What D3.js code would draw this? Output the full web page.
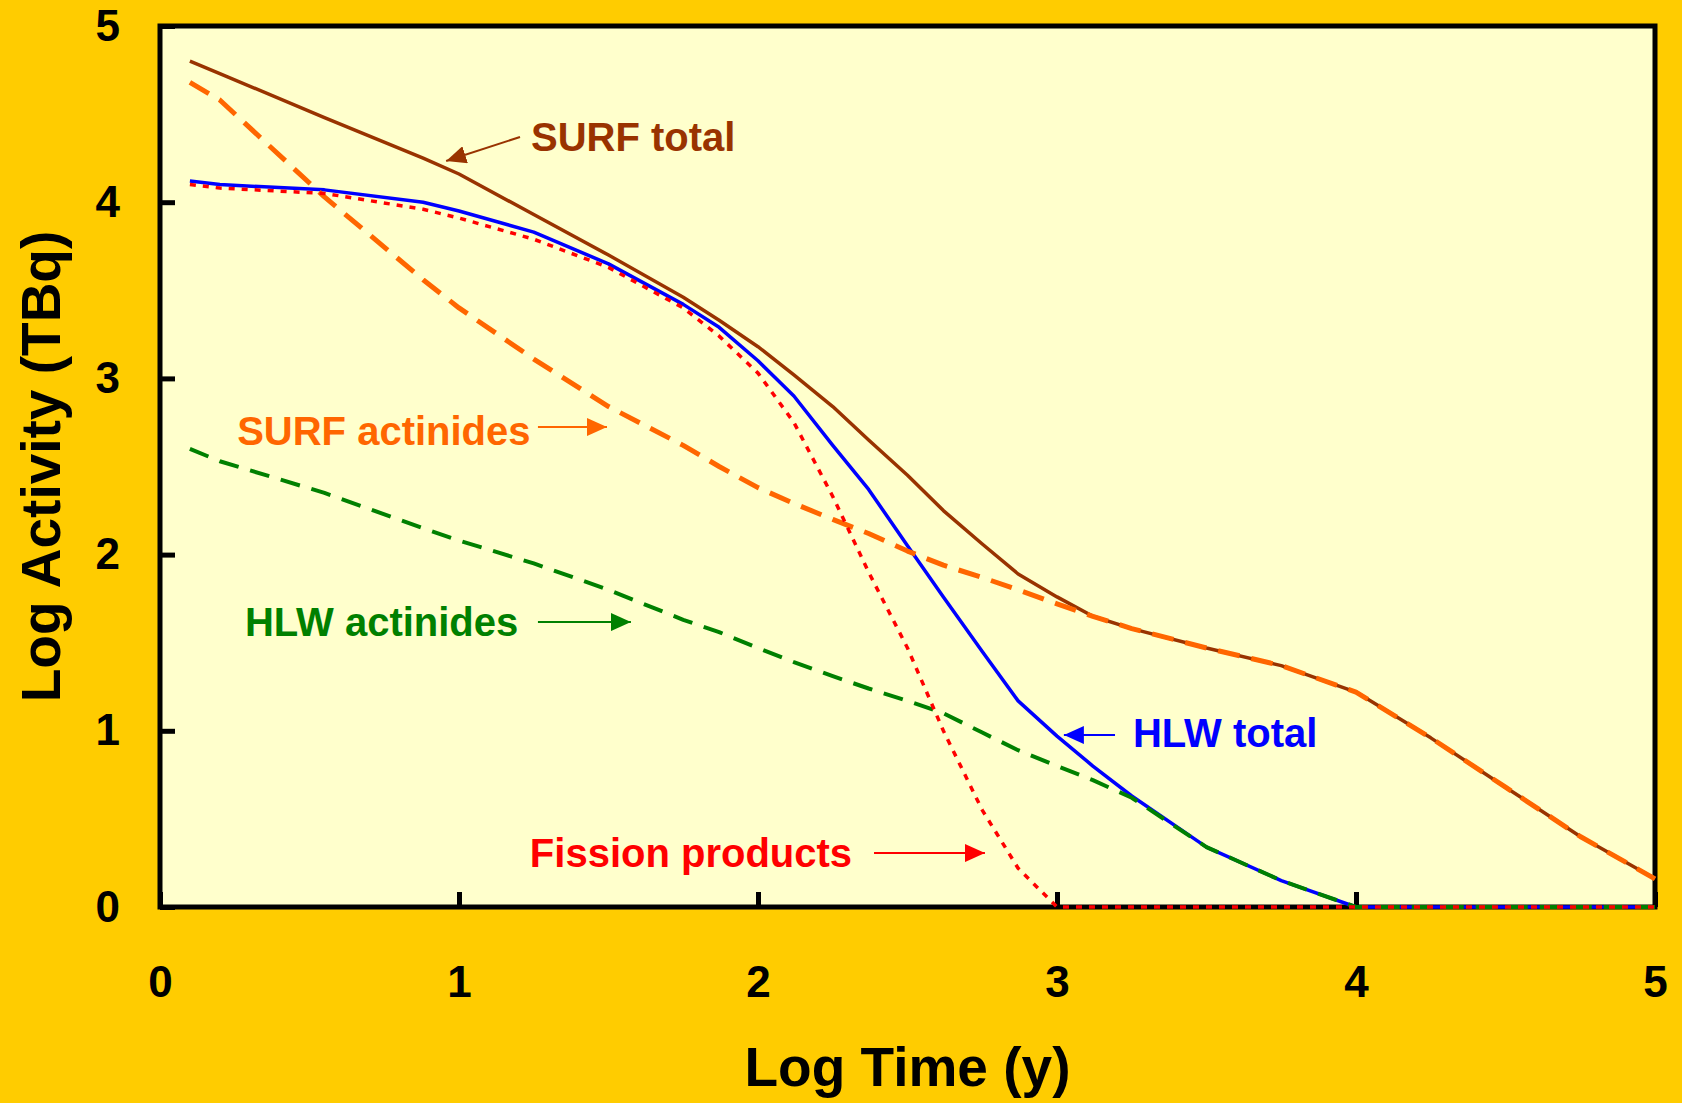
<!DOCTYPE html>
<html>
<head>
<meta charset="utf-8">
<script src="https://cdn.jsdelivr.net/npm/d3@7"></script>
<style>
  body { margin: 0; background: #FFCC00; }
  text { font-family: "Liberation Sans", Arial, sans-serif; font-weight: bold; }
</style>
</head>
<body>
<div id="plot"></div>
<script>
// canvas
var w = 1682;
var h = 1103;
var margin = { top: 26, right: 27, bottom: 196, left: 160 };

// Data: log time (y) and log activity (TBq) per curve
var logTime         = [0.1, 0.2, 0.55, 0.88, 1.0, 1.25, 1.5, 1.75, 1.87, 2.0, 2.12, 2.25, 2.37, 2.5, 2.62, 2.75, 2.87, 3.0, 3.12, 3.25, 3.5, 3.75, 4.0, 4.25, 4.5, 4.75, 5.0];
var surfTotal       = [4.80, 4.73, 4.48, 4.25, 4.16, 3.93, 3.70, 3.46, 3.33, 3.18, 3.02, 2.84, 2.65, 2.45, 2.25, 2.06, 1.89, 1.76, 1.65, 1.58, 1.47, 1.37, 1.22, 0.96, 0.68, 0.40, 0.16];
var surfActinides   = [4.68, 4.58, 4.03, 3.56, 3.40, 3.11, 2.84, 2.62, 2.50, 2.38, 2.29, 2.20, 2.12, 2.02, 1.94, 1.87, 1.80, 1.72, 1.65, 1.58, 1.47, 1.37, 1.22, 0.96, 0.68, 0.40, 0.16];
var hlwTotal        = [4.12, 4.10, 4.07, 4.00, 3.95, 3.83, 3.65, 3.42, 3.29, 3.10, 2.90, 2.62, 2.37, 2.05, 1.76, 1.45, 1.17, 0.97, 0.80, 0.63, 0.34, 0.15, 0.0, 0.0, 0.0, 0.0, 0.0];
var hlwActinides    = [2.60, 2.53, 2.35, 2.15, 2.08, 1.95, 1.80, 1.63, 1.56, 1.47, 1.39, 1.31, 1.24, 1.17, 1.10, 0.99, 0.89, 0.80, 0.72, 0.62, 0.34, 0.15, 0.0, 0.0, 0.0, 0.0, 0.0];
var fissionProducts = [4.10, 4.08, 4.05, 3.96, 3.91, 3.79, 3.63, 3.40, 3.24, 3.03, 2.75, 2.33, 1.90, 1.47, 1.00, 0.55, 0.22, 0.0, 0.0, 0.0, 0.0, 0.0, 0.0, 0.0, 0.0, 0.0, 0.0];

var xTicks = [0, 1, 2, 3, 4, 5];
var yTicks = [0, 1, 2, 3, 4, 5];

var series = [
	{ name: 'SURF total',       values: surfTotal,       color: '#993300', width: 3.5, dash: null },
	{ name: 'HLW total',        values: hlwTotal,        color: '#0000FF', width: 3.5, dash: null },
	{ name: 'SURF actinides',   values: surfActinides,   color: '#FF6600', width: 5,   dash: '22,12' },
	{ name: 'HLW actinides',    values: hlwActinides,    color: '#008000', width: 4,   dash: '20,12' },
	{ name: 'Fission products', values: fissionProducts, color: '#FF0000', width: 3.5, dash: '6,7' }
];

// labels with arrows, in data units
var notes = [
	{ text: 'SURF total',       color: '#993300', tx: 1.241, ty: 4.29,  x1: 1.204, y1: 4.37,  x2: 0.957, y2: 4.234 },
	{ text: 'SURF actinides',   color: '#FF6600', tx: 0.258, ty: 2.622, x1: 1.264, y1: 2.724, x2: 1.495, y2: 2.724 },
	{ text: 'HLW actinides',    color: '#008000', tx: 0.284, ty: 1.538, x1: 1.264, y1: 1.617, x2: 1.575, y2: 1.617 },
	{ text: 'HLW total',        color: '#0000FF', tx: 3.254, ty: 0.908, x1: 3.194, y1: 0.976, x2: 3.023, y2: 0.976 },
	{ text: 'Fission products', color: '#FF0000', tx: 1.237, ty: 0.227, x1: 2.388, y1: 0.306, x2: 2.759, y2: 0.306 }
];

var iw = w - margin.left - margin.right;
var ih = h - margin.top - margin.bottom;

var svg = d3.select('#plot').append('svg')
	.attr('width', w)
	.attr('height', h);

svg.append('rect')
	.attr('width', w)
	.attr('height', h)
	.attr('fill', '#FFCC00');

var g = svg.append('g')
	.attr('transform', 'translate(' + margin.left + ',' + margin.top + ')');

var x = d3.scaleLinear().domain([0, 5]).range([0, iw]);
var y = d3.scaleLinear().domain([0, 5]).range([ih, 0]);

// plot area
g.append('rect')
	.attr('width', iw)
	.attr('height', ih)
	.attr('fill', '#FFFFCC')
	.attr('stroke', '#000')
	.attr('stroke-width', 5);

// axes with inward ticks
var xAxis = g.append('g')
	.attr('transform', 'translate(0,' + ih + ')')
	.call(d3.axisBottom(x).tickValues(xTicks).tickSize(-15).tickPadding(59).tickFormat(d3.format('d')));

var yAxis = g.append('g')
	.call(d3.axisLeft(y).tickValues(yTicks).tickSize(-15).tickPadding(40).tickFormat(d3.format('d')));

[xAxis, yAxis].forEach(function (a) {
	a.select('.domain').remove();
	a.selectAll('line').attr('stroke', '#000').attr('stroke-width', 5);
	a.selectAll('text')
		.attr('fill', '#000')
		.style('font-size', '44px')
		.style('font-family', '"Liberation Sans", Arial, sans-serif')
		.style('font-weight', 'bold');
});

// axis titles
svg.append('text')
	.attr('x', margin.left + iw / 2)
	.attr('y', 1086)
	.attr('text-anchor', 'middle')
	.attr('font-size', '55px')
	.attr('fill', '#000')
	.text('Log Time (y)');

svg.append('text')
	.attr('transform', 'translate(60,' + (margin.top + ih / 2) + ') rotate(-90)')
	.attr('text-anchor', 'middle')
	.attr('font-size', '55px')
	.attr('fill', '#000')
	.text('Log Activity (TBq)');

// curves
var line = d3.line()
	.x(function (d) { return x(d[0]); })
	.y(function (d) { return y(d[1]); });

series.forEach(function (s) {
	var pts = logTime.map(function (t, i) { return [t, s.values[i]]; });
	g.append('path')
		.datum(pts)
		.attr('d', line)
		.attr('fill', 'none')
		.attr('stroke', s.color)
		.attr('stroke-width', s.width)
		.attr('stroke-dasharray', s.dash)
		.attr('stroke-linejoin', 'round');
});

// arrow heads
var defs = svg.append('defs');
notes.forEach(function (n, i) {
	defs.append('marker')
		.attr('id', 'arrow' + i)
		.attr('markerUnits', 'userSpaceOnUse')
		.attr('viewBox', '0 0 20 18')
		.attr('refX', 20)
		.attr('refY', 9)
		.attr('markerWidth', 20)
		.attr('markerHeight', 18)
		.attr('orient', 'auto')
		.append('path')
		.attr('d', 'M0,0 L20,9 L0,18 Z')
		.attr('fill', n.color);
});

var notesG = g.selectAll('.note')
	.data(notes)
	.enter()
	.append('g')
	.attr('class', 'note');

notesG.append('line')
	.attr('x1', function (d) { return x(d.x1); })
	.attr('y1', function (d) { return y(d.y1); })
	.attr('x2', function (d) { return x(d.x2); })
	.attr('y2', function (d) { return y(d.y2); })
	.attr('stroke', function (d) { return d.color; })
	.attr('stroke-width', 2)
	.attr('marker-end', function (d, i) { return 'url(#arrow' + i + ')'; });

notesG.append('text')
	.attr('x', function (d) { return x(d.tx); })
	.attr('y', function (d) { return y(d.ty); })
	.attr('font-size', '40px')
	.attr('fill', function (d) { return d.color; })
	.text(function (d) { return d.text; });
</script>
</body>
</html>
